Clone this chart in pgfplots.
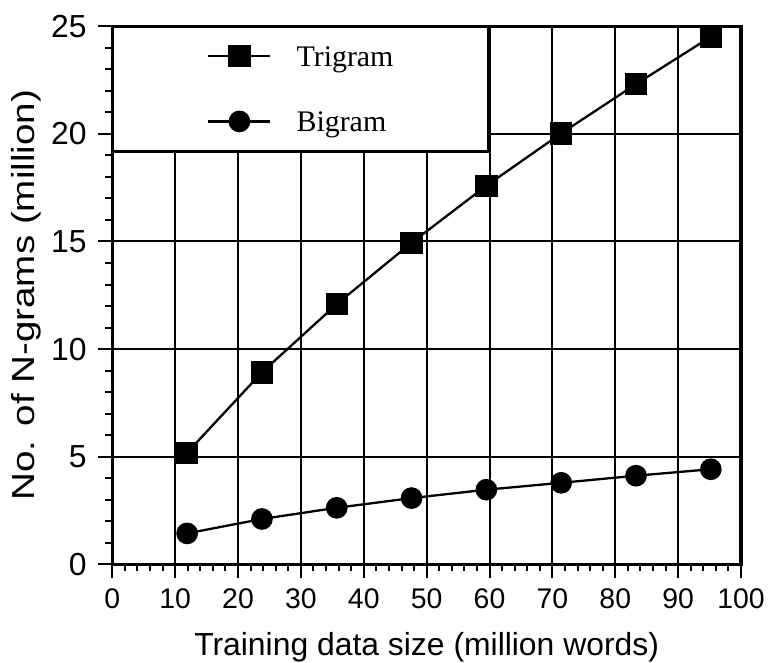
\documentclass[border=0pt]{standalone}
\usepackage{fontspec}
\setmainfont{Liberation Sans}
\newfontfamily\seriffont{Liberation Serif}
\usepackage{graphicx}
\usepackage{pgfplots}
\pgfplotsset{compat=1.18}
\begin{document}
\begin{tikzpicture}
\begin{pgfinterruptboundingbox}
\begin{axis}[
  at={(0,0)}, anchor=south west,
  scale only axis, width=628.7bp, height=538.2bp,
  xmin=0, xmax=100, ymin=0, ymax=25,
  xtick={0,10,...,100}, ytick={0,5,...,25},
  minor x tick num=4, minor y tick num=4,
  tick align=outside,
  major tick length=14bp, minor tick length=7bp,
  every tick/.style={black, line width=2bp},
  axis line style={line width=3.3bp},
  grid=major,
  major grid style={black, line width=2bp},
  xtick pos=bottom, ytick pos=left,
  /pgf/number format/assume math mode=true,
  xticklabel style={font=\fontsize{28.5}{30}\selectfont, inner sep=0pt, anchor=north, yshift=-10bp},
  yticklabel style={font=\fontsize{32}{36}\selectfont, inner sep=0pt, anchor=east, xshift=-11.5bp},
  xlabel={Training data size (million words)},
  ylabel={\scalebox{1.21}[1]{No. of N-grams (million)}},
  xlabel style={font=\fontsize{32}{36}\selectfont, inner sep=0pt, at={(rel axis cs:0.5,0)}, anchor=base, yshift=-90.6bp},
  ylabel style={font=\fontsize{32}{36}\selectfont, inner sep=0pt, at={(rel axis cs:0,0.5)}, anchor=base, yshift=77.3bp},
  legend style={at={(rel axis cs:0,1)}, anchor=north west, draw=black, fill=white,
    line width=2.7bp, outer sep=0pt, inner xsep=95bp, inner ysep=18bp,
    column sep=25bp, row sep=42bp,
    nodes={inner sep=0pt},
    font=\seriffont\fontsize{30}{30}\selectfont},
  legend cell align=left,
  legend image code/.code={\draw[mark repeat=2,mark phase=2] plot coordinates {(0bp,0bp) (31bp,0bp) (62bp,0bp)};},
]
\addplot[black, line width=2.3bp, mark=square*, mark size=10bp, mark options={solid, fill=black}]
  coordinates {(11.9,5.19) (23.8,8.92) (35.7,12.09) (47.6,14.94) (59.5,17.59) (71.4,20.02) (83.3,22.31) (95.2,24.51)};
\addlegendentry{\rule{0pt}{22bp}Trigram}
\addplot[black, line width=2.3bp, mark=*, mark size=9.7bp, mark options={solid, fill=black}]
  coordinates {(11.9,1.44) (23.8,2.11) (35.7,2.63) (47.6,3.08) (59.5,3.47) (71.4,3.79) (83.3,4.12) (95.2,4.42)};
\addlegendentry{\rule{0pt}{22bp}Bigram}
\end{axis}
\end{pgfinterruptboundingbox}
\useasboundingbox (-112.3bp,-98.6bp) rectangle (657.7bp,564.4bp);
\end{tikzpicture}
\end{document}
